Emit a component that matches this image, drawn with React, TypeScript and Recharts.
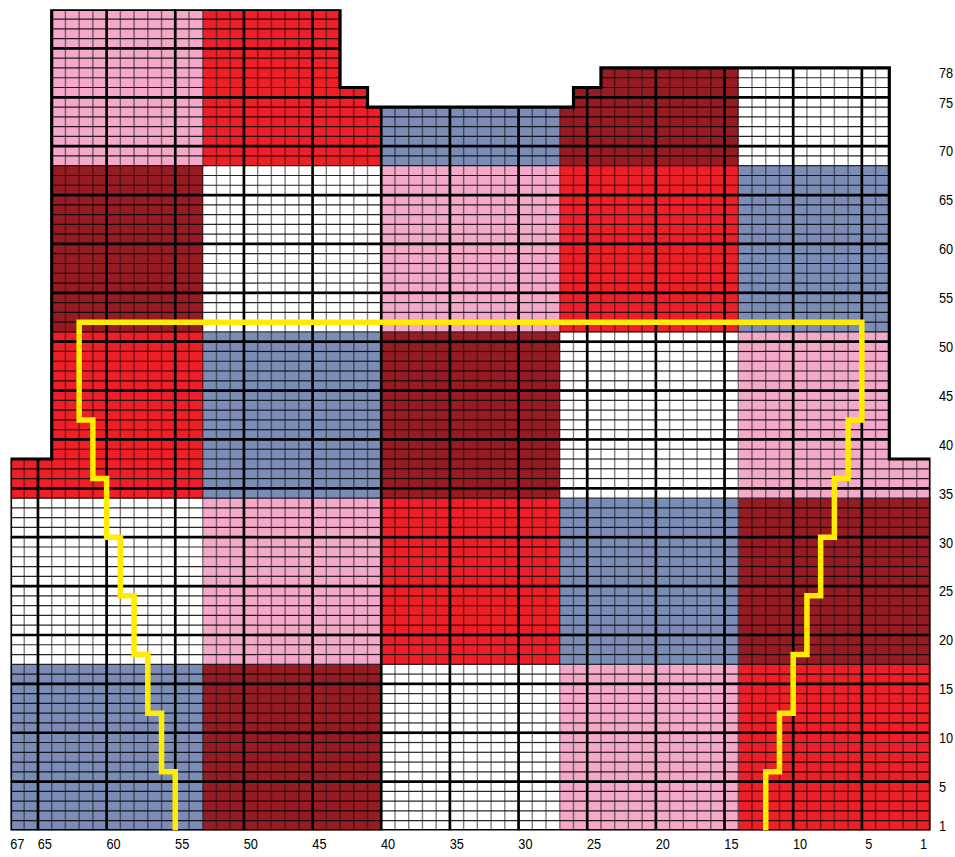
import React from 'react';
import { ScatterChart, Scatter, XAxis, YAxis } from 'recharts';

const CHART_W = 955;
const CHART_H = 855;
const MARGIN = { top: 9.3, right: 0, bottom: 0, left: 10.5 };
const AXIS_W = 24.5;
const AXIS_H = 24.5;

const NUM_COLS = 67;
const NUM_ROWS = 84;

// runs of stitch columns (1 = right-most) and the last row each run reaches
const columnRuns = [
  { from: 65, to: 67, top: 38 },
  { from: 44, to: 64, top: 84 },
  { from: 42, to: 43, top: 76 },
  { from: 27, to: 41, top: 74 },
  { from: 25, to: 26, top: 76 },
  { from: 4, to: 24, top: 78 },
  { from: 1, to: 3, top: 38 },
];

// colour blocks
const blockColumns = [[54, 67], [41, 53], [28, 40], [15, 27], [1, 14]]; // left to right
const blockRows = [[1, 17], [18, 34], [35, 51], [52, 68], [69, 84]]; // bottom to top
const blockColours = [
  ['blue', 'darkred', 'white', 'pink', 'red'],
  ['white', 'pink', 'red', 'blue', 'darkred'],
  ['red', 'blue', 'darkred', 'white', 'pink'],
  ['darkred', 'white', 'pink', 'red', 'blue'],
  ['pink', 'red', 'blue', 'darkred', 'white'],
];

const palette: Record<string, string> = {
  blue: '#7B8DB7',
  darkred: '#961B23',
  white: '#FFFFFF',
  pink: '#F5A9CA',
  red: '#EE1F27',
};

const colTicks = [67, 65, 60, 55, 50, 45, 40, 35, 30, 25, 20, 15, 10, 5, 1];
const rowTicks = [1, 5, 10, 15, 20, 25, 30, 35, 40, 45, 50, 55, 60, 65, 70, 75, 78];

// smaller size outline (yellow), on stitch / row boundaries
const sizeLine = [
  [55.5, 0.5], [55.5, 6.5], [56.5, 6.5], [56.5, 12.5], [57.5, 12.5], [57.5, 18.5],
  [58.5, 18.5], [58.5, 24.5], [59.5, 24.5], [59.5, 30.5], [60.5, 30.5], [60.5, 36.5],
  [61.5, 36.5], [61.5, 42.5], [62.5, 42.5], [62.5, 52.5],
  [5.5, 52.5], [5.5, 42.5], [6.5, 42.5], [6.5, 36.5], [7.5, 36.5], [7.5, 30.5],
  [8.5, 30.5], [8.5, 24.5], [9.5, 24.5], [9.5, 18.5], [10.5, 18.5], [10.5, 12.5],
  [11.5, 12.5], [11.5, 6.5], [12.5, 6.5], [12.5, 0.5],
];

const CELL_W = (CHART_W - MARGIN.left - MARGIN.right - AXIS_W) / NUM_COLS;
const CELL_H = (CHART_H - MARGIN.top - MARGIN.bottom - AXIS_H) / NUM_ROWS;

const colourAt = (c: number, r: number) => {
  const bc = blockColumns.findIndex(([a, b]) => c >= a && c <= b);
  const br = blockRows.findIndex(([a, b]) => r >= a && r <= b);
  return palette[blockColours[br][bc]];
};

const cells: { x: number; y: number; fill: string }[] = [];
columnRuns.forEach((run) => {
  for (let c = run.from; c <= run.to; c++) {
    for (let r = 1; r <= run.top; r++) cells.push({ x: c, y: r, fill: colourAt(c, r) });
  }
});

const outline = [{ x: NUM_COLS + 0.5, y: 0.5 }];
columnRuns.forEach((run) => {
  outline.push({ x: run.to + 0.5, y: run.top + 0.5 }, { x: run.from - 0.5, y: run.top + 0.5 });
});
outline.push({ x: 0.5, y: 0.5 }, { x: NUM_COLS + 0.5, y: 0.5 });

const sizeData = sizeLine.map(([x, y]) => ({ x, y }));

const FillShape = (props: any) => {
  const { cx, cy, payload } = props;
  return (
    <rect x={cx - CELL_W / 2} y={cy - CELL_H / 2} width={CELL_W + 0.3} height={CELL_H + 0.3} fill={payload.fill} />
  );
};

const GridShape = (props: any) => {
  const { cx, cy, payload } = props;
  const l = cx - CELL_W / 2;
  const r = cx + CELL_W / 2;
  const t = cy - CELL_H / 2;
  const b = cy + CELL_H / 2;
  const parts = [];
  if (payload.y > 1) {
    const thick = (payload.y - 1) % 5 === 0;
    parts.push(
      <path key="h" d={`M${l},${b}H${r}`} stroke="#000" strokeOpacity={thick ? 1 : 0.85} strokeWidth={thick ? 2.7 : 1.2} />
    );
  }
  if (payload.x > 1) {
    const thick = (payload.x - 1) % 5 === 0;
    parts.push(
      <path key="v" d={`M${r},${t}V${b}`} stroke="#000" strokeOpacity={thick ? 1 : 0.5} strokeWidth={thick ? 2.7 : 1.4} />
    );
  }
  return <g>{parts}</g>;
};

const NoShape = () => <g />;

const ColTick = ({ x, y, payload }: any) => (
  <text
    transform={`translate(${x},${y + 18.5}) scale(0.85,1)`}
    textAnchor="middle"
    fontSize={15}
    fontFamily="'Liberation Sans', Arial, sans-serif"
    fill="#000"
  >
    {payload.value}
  </text>
);

const RowTick = ({ x, y, payload }: any) => (
  <text
    transform={`translate(${x + 8.5},${y + 5.4}) scale(0.85,1)`}
    textAnchor="start"
    fontSize={15}
    fontFamily="'Liberation Sans', Arial, sans-serif"
    fill="#000"
  >
    {payload.value}
  </text>
);

export default function App() {
  return (
    <div style={{ position: 'absolute', left: 0, top: 0, background: '#fff' }}>
      <ScatterChart width={CHART_W} height={CHART_H} margin={MARGIN}>
        <XAxis
          type="number"
          dataKey="x"
          domain={[0.5, NUM_COLS + 0.5]}
          allowDataOverflow
          reversed
          ticks={colTicks}
          interval={0}
          height={AXIS_H}
          axisLine={false}
          tickLine={false}
          tickSize={0}
          tickMargin={0}
          tick={<ColTick />}
        />
        <YAxis
          type="number"
          dataKey="y"
          orientation="right"
          domain={[0.5, NUM_ROWS + 0.5]}
          allowDataOverflow
          ticks={rowTicks}
          interval={0}
          width={AXIS_W}
          axisLine={false}
          tickLine={false}
          tickSize={0}
          tickMargin={0}
          tick={<RowTick />}
        />
        <Scatter data={cells} shape={FillShape} isAnimationActive={false} />
        <Scatter data={cells} shape={GridShape} isAnimationActive={false} />
        <Scatter
          data={outline}
          shape={NoShape}
          line={{ stroke: '#000', strokeWidth: 3.2, strokeLinejoin: 'miter', strokeLinecap: 'square' }}
          lineType="joint"
          isAnimationActive={false}
        />
        <Scatter
          data={sizeData}
          shape={NoShape}
          line={{ stroke: '#FFEC00', strokeWidth: 5.5, strokeLinejoin: 'miter', strokeLinecap: 'butt' }}
          lineType="joint"
          isAnimationActive={false}
        />
      </ScatterChart>
    </div>
  );
}
